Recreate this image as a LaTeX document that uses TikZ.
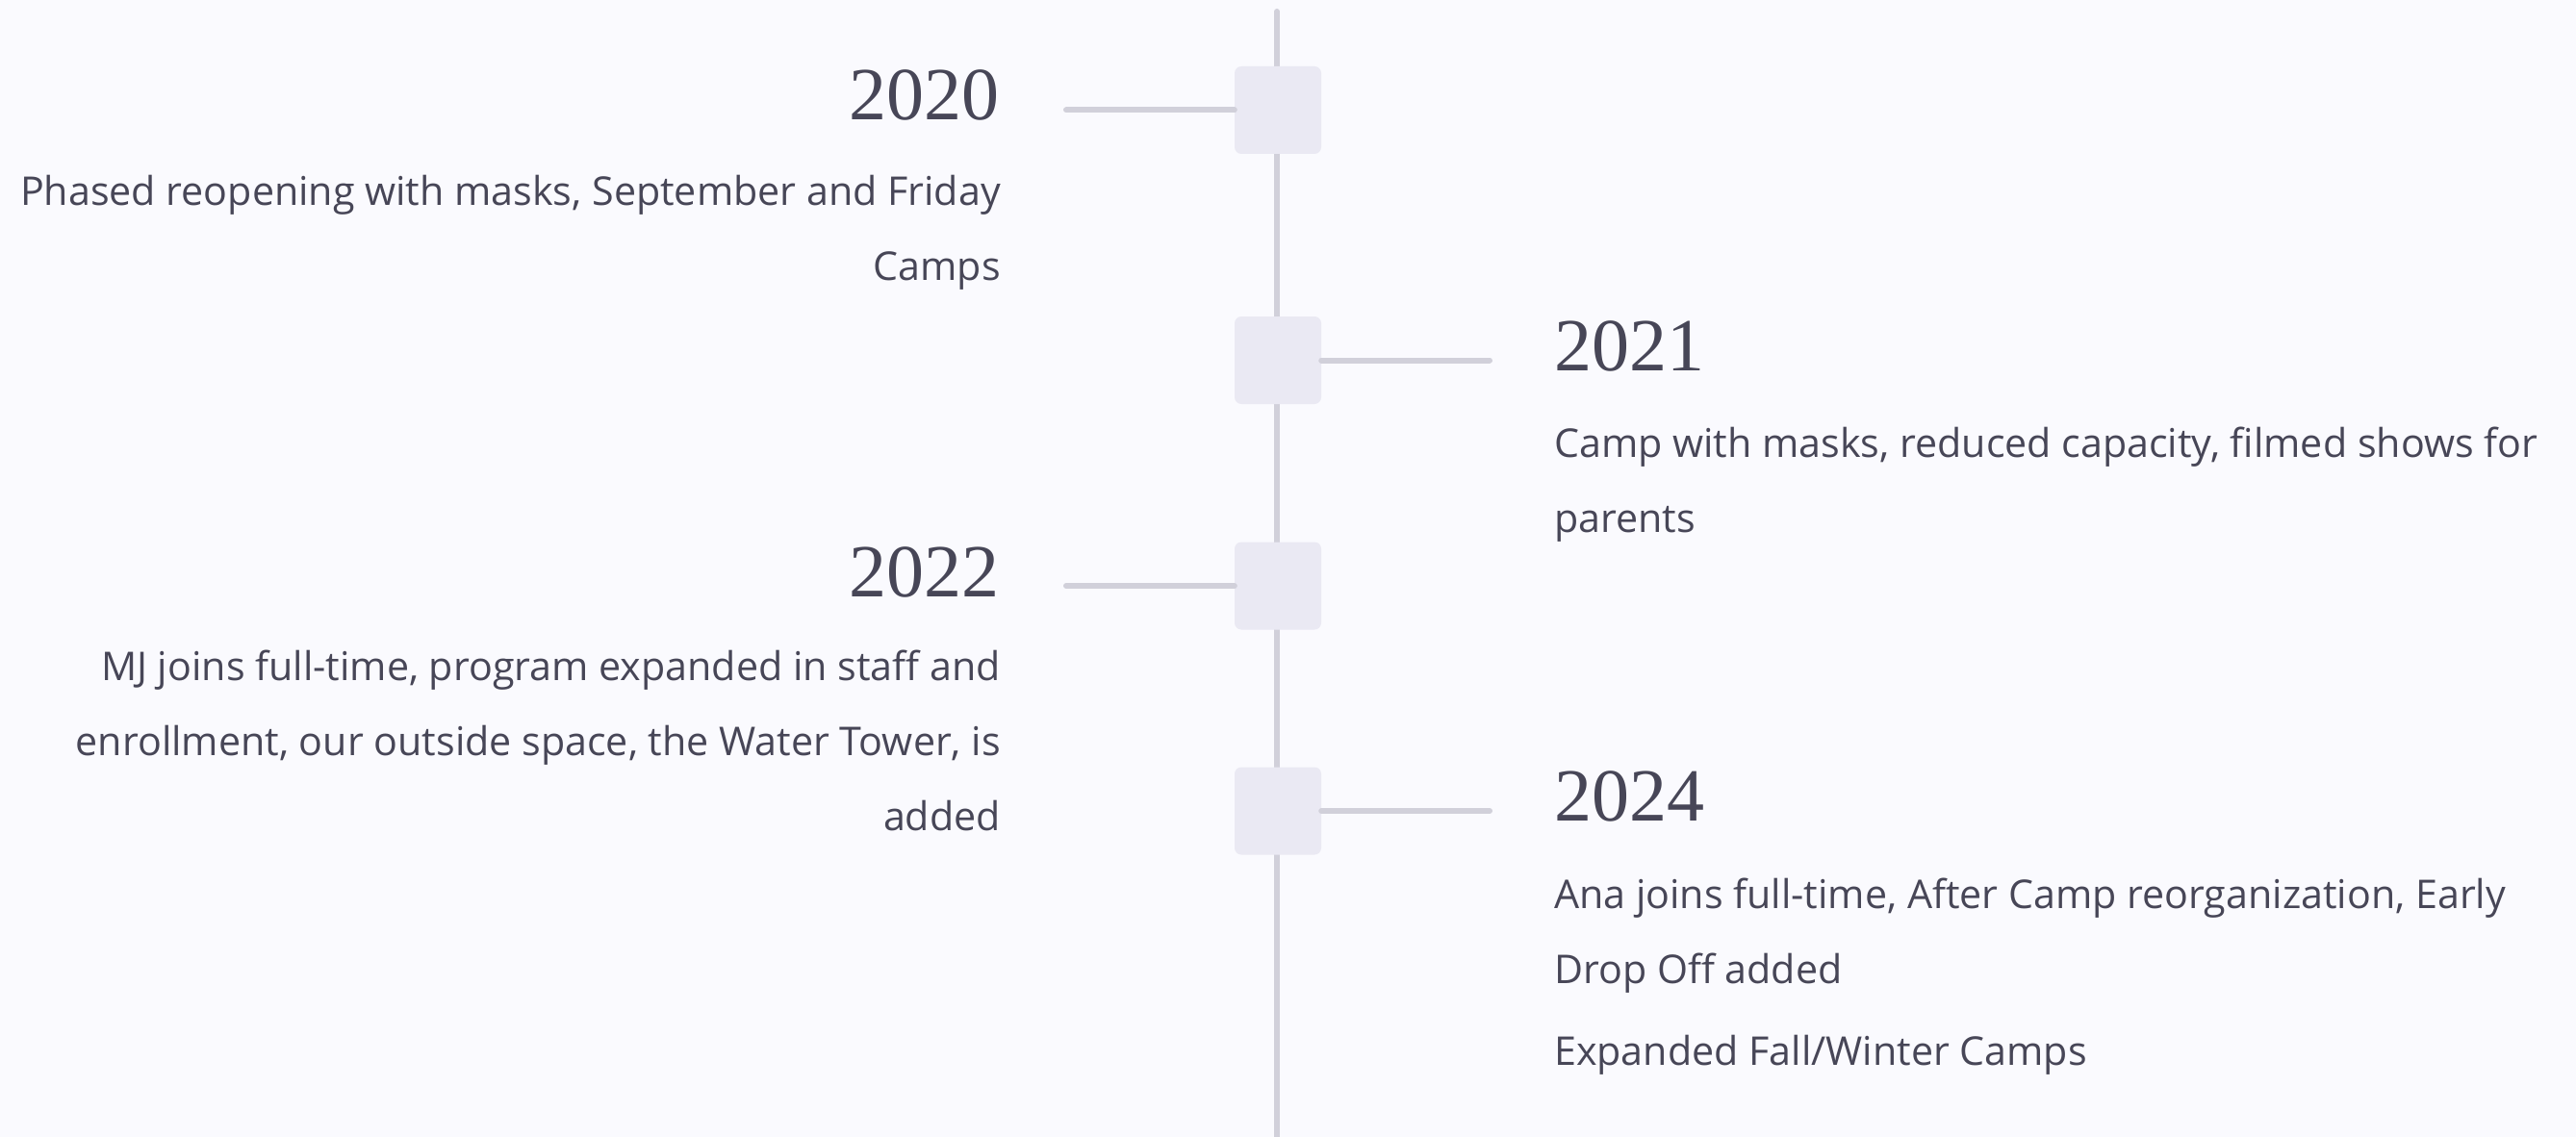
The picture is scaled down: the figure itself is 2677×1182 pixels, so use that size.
\documentclass[tikz,border=0pt]{standalone}
\usepackage{fontspec}
\setmainfont{Open Sans}
\newfontfamily\yearfont{Liberation Serif}
\definecolor{pagebg}{HTML}{FAFAFE}
\definecolor{boxfill}{HTML}{EAE9F3}
\definecolor{spinegray}{HTML}{D1D0DA}
\definecolor{inkgray}{HTML}{474657}

\begin{document}
\begin{tikzpicture}[x=1pt,y=-1pt,
		every node/.style = {inner sep=0pt, text=inkgray}]
		\tikzset{
			yearbox/.style = { draw=none, fill=boxfill, rounded corners=7pt, minimum width=90pt, minimum height=91pt },
			stem/.style = { draw=spinegray, line width=6pt, line cap=round },
			yearlabel/.style = { font=\yearfont\fontsize{78}{78}\selectfont },
			desc/.style = { font=\fontsize{41.2}{78}\selectfont },
		}
		\fill[pagebg] (0,0) rectangle (2677,1182);
		\useasboundingbox (0,0) rectangle (2677,1182);
		% spine
		\coordinate (top) at (1327,12);
		\coordinate (bottom) at (1327,1190);
		\draw[stem] (top) -- (bottom);
		% year boxes on the spine
		\foreach \yr/\ypos in {2020/114.5, 2021/374.5, 2022/609, 2024/843}
			\node[yearbox] (b\yr) at (1328,\ypos) {};
		% stems
		\coordinate (e2020) at (1108,114.5);
		\coordinate (e2021) at (1548,374.5);
		\coordinate (e2022) at (1108,609);
		\coordinate (e2024) at (1548,843);
		\draw[stem] (e2020) -- (b2020.west);
		\draw[stem] (b2021.east) -- (e2021);
		\draw[stem] (e2022) -- (b2022.west);
		\draw[stem] (b2024.east) -- (e2024);
		% left entries (base = last line)
		\node[yearlabel, anchor=base east] (y2020) at (1039,125) { 2020 };
		\node[desc, anchor=base east, align=right] (d2020) at (1040,292)
			{ Phased reopening with masks, September and Friday \\ Camps };
		\node[yearlabel, anchor=base east] (y2022) at (1039,620) { 2022 };
		\node[desc, anchor=base east, align=right] (d2022) at (1040,863)
			{ MJ joins full-time, program expanded in staff and \\ enrollment, our outside space, the Water Tower, is \\ added };
		% right entries
		\node[yearlabel, anchor=base west] (y2021) at (1615,385) { 2021 };
		\node[desc, anchor=base west, align=left] (d2021) at (1615,553)
			{ Camp with masks, reduced capacity, filmed shows for \\ parents };
		\node[yearlabel, anchor=base west] (y2024) at (1615,853) { 2024 };
		\node[desc, anchor=base west, align=left] (d2024) at (1615,1022)
			{ Ana joins full-time, After Camp reorganization, Early \\ Drop Off added };
		\node[desc, anchor=base west] (d2024b) at (1615,1107) { Expanded Fall/Winter Camps };
\end{tikzpicture}
\end{document}
